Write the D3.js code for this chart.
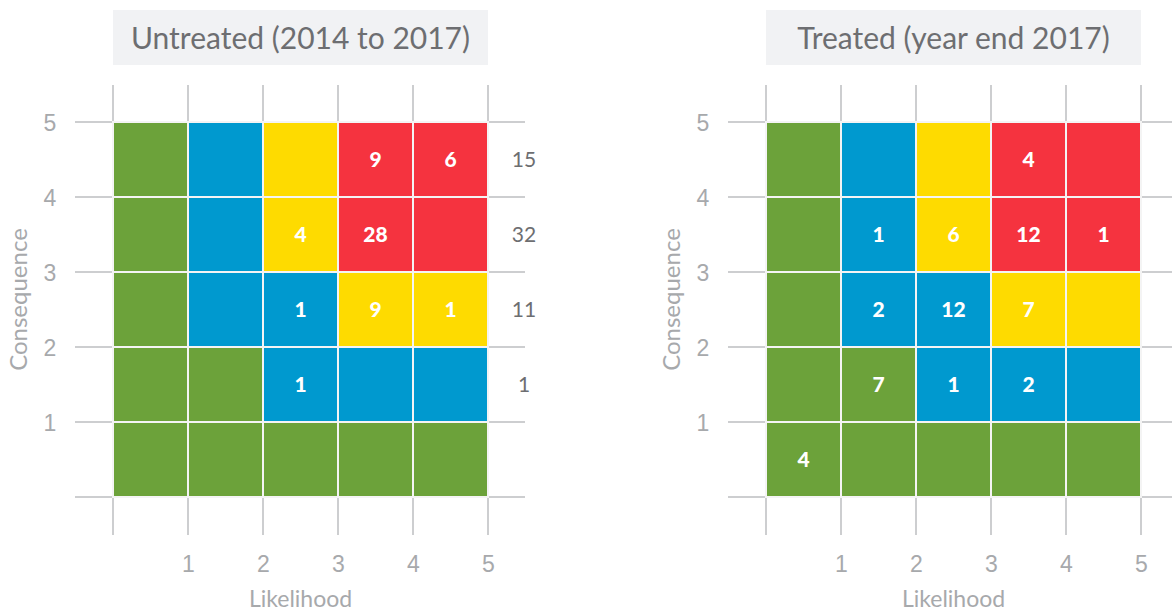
<!DOCTYPE html>
<html>
<head>
<meta charset="utf-8">
<script src="https://cdn.jsdelivr.net/npm/d3@7/dist/d3.min.js"></script>
<style>
  html, body { margin: 0; padding: 0; background: #ffffff; }
  svg { display: block; font-family: "Lato", "Open Sans", sans-serif; }
</style>
</head>
<body>
<svg id="chart" width="1172" height="612"></svg>
<script>
// Axis tick labels (cell boundaries 1..5)
const likelihoodTicks = [1, 2, 3, 4, 5];
const consequenceTicks = [1, 2, 3, 4, 5];

// Risk rating of each cell, top row (consequence 5) first, likelihood left to right
const ratingGrid = [
  ["low", "medium", "high", "extreme", "extreme"],
  ["low", "medium", "high", "extreme", "extreme"],
  ["low", "medium", "medium", "high", "high"],
  ["low", "low", "medium", "medium", "medium"],
  ["low", "low", "low", "low", "low"]
];

// Number of risks per cell, same layout as ratingGrid
const untreatedCounts = [
  [null, null, null, 9, 6],
  [null, null, 4, 28, null],
  [null, null, 1, 9, 1],
  [null, null, 1, null, null],
  [null, null, null, null, null]
];
const untreatedRowTotals = [15, 32, 11, 1, null];

const treatedCounts = [
  [null, null, null, 4, null],
  [null, 1, 6, 12, 1],
  [null, 2, 12, 7, null],
  [null, 7, 1, 2, null],
  [4, null, null, null, null]
];

const panelTitles = ["Untreated (2014 to 2017)", "Treated (year end 2017)"];

const ratingColour = {
  low: "#6ca23a",
  medium: "#0099cf",
  high: "#fedb00",
  extreme: "#f5333f"
};

const svg = d3.select("#chart");

function drawMatrix(left, title, counts, rowTotals, hLineRight) {
  const cell = 75;
  const x = d3.scaleLinear().domain([0, 5]).range([left, left + 5 * cell]);
  const y = d3.scaleLinear().domain([0, 5]).range([497, 122]);
  const g = svg.append("g");

  // Title box
  g.append("rect")
    .attr("x", x(0)).attr("y", 10)
    .attr("width", x(5) - x(0)).attr("height", 55)
    .attr("fill", "#f1f2f4");
  g.append("text")
    .attr("x", (x(0) + x(5)) / 2).attr("y", 49)
    .attr("text-anchor", "middle")
    .attr("font-size", 30)
    .attr("fill", "#6d6e71")
    .text(title);

  // Grid lines extending beyond the matrix
  const gridVals = d3.range(0, 6);
  g.selectAll("line.v").data(gridVals).join("line")
    .attr("x1", d => x(d)).attr("x2", d => x(d))
    .attr("y1", 85).attr("y2", 535)
    .attr("stroke", "#bcbec0").attr("stroke-width", 1.5);
  g.selectAll("line.h").data(gridVals).join("line")
    .attr("x1", x(0) - 38).attr("x2", hLineRight)
    .attr("y1", d => y(d)).attr("y2", d => y(d))
    .attr("stroke", "#bcbec0").attr("stroke-width", 1.5);

  // Cells
  const cells = [];
  ratingGrid.forEach((row, r) => row.forEach((rating, c) => {
    cells.push({ r, c, rating, count: counts[r][c] });
  }));
  g.selectAll("rect.cell").data(cells).join("rect")
    .attr("class", "cell")
    .attr("x", d => x(d.c))
    .attr("y", d => y(5 - d.r))
    .attr("width", cell).attr("height", cell)
    .attr("fill", d => ratingColour[d.rating])
    .attr("stroke", "#f4f4f4").attr("stroke-width", 2);

  g.selectAll("text.count").data(cells.filter(d => d.count != null)).join("text")
    .attr("class", "count")
    .attr("x", d => x(d.c + 0.5))
    .attr("y", d => y(4.5 - d.r) + 7)
    .attr("text-anchor", "middle")
    .attr("font-size", 21)
    .attr("font-weight", 900)
    .attr("fill", "#ffffff")
    .text(d => d.count);

  // Row totals on the right
  if (rowTotals) {
    g.selectAll("text.total").data(rowTotals.map((v, r) => ({ v, r })).filter(d => d.v != null)).join("text")
      .attr("x", x(5) + 36)
      .attr("y", d => y(4.5 - d.r) + 7)
      .attr("text-anchor", "middle")
      .attr("font-size", 21)
      .attr("fill", "#6d6e71")
      .text(d => d.v);
  }

  // Axes tick labels
  const xAxis = d3.axisBottom(x).tickValues(likelihoodTicks).tickFormat(d3.format("d")).tickSize(0).tickPadding(0);
  const xg = g.append("g").attr("transform", "translate(0,556)").call(xAxis);
  xg.select(".domain").remove();
  xg.selectAll("text").attr("font-size", 23).attr("fill", "#a7a9ac").attr("font-family", null).attr("dy", "0.7em");

  const yAxis = d3.axisLeft(y).tickValues(consequenceTicks).tickFormat(d3.format("d")).tickSize(0).tickPadding(0);
  const yg = g.append("g").attr("transform", `translate(${x(0) - 63},0)`).call(yAxis);
  yg.select(".domain").remove();
  yg.selectAll("text").attr("font-size", 23).attr("fill", "#a7a9ac").attr("font-family", null)
    .attr("text-anchor", "middle").attr("dy", "0.38em");

  // Axis titles
  g.append("text")
    .attr("x", (x(0) + x(5)) / 2).attr("y", 607)
    .attr("text-anchor", "middle")
    .attr("font-size", 23)
    .attr("fill", "#a7a9ac")
    .text("Likelihood");
  g.append("text")
    .attr("transform", `translate(${x(0) - 86},${(y(0) + y(5)) / 2 - 10}) rotate(-90)`)
    .attr("text-anchor", "middle")
    .attr("font-size", 24)
    .attr("fill", "#a7a9ac")
    .text("Consequence");
}

drawMatrix(113, panelTitles[0], untreatedCounts, untreatedRowTotals, 525);
drawMatrix(766, panelTitles[1], treatedCounts, null, 1172);
</script>
</body>
</html>
